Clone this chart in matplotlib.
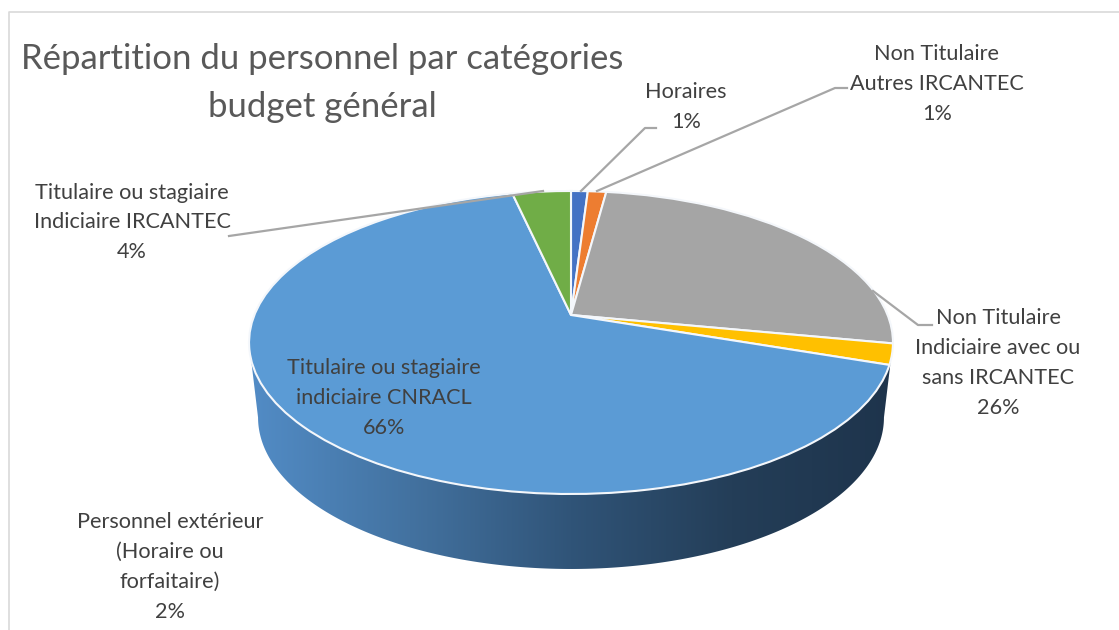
import numpy as np
import matplotlib
matplotlib.use('Agg')
import matplotlib.pyplot as plt
from matplotlib.patches import Polygon
from matplotlib.transforms import Transform

plt.rcParams['font.family'] = ['Lato', 'DejaVu Sans']

# Chart data
names = ['Horaires', 'Non Titulaire\nAutres IRCANTEC', 'Non Titulaire\nIndiciaire avec ou\nsans IRCANTEC',
         'Personnel extérieur\n(Horaire ou\nforfaitaire)', 'Titulaire ou stagiaire\nindiciaire CNRACL',
         'Titulaire ou stagiaire\nIndiciaire IRCANTEC']
values = [1.0, 1.1, 25.9, 2.2, 66.3, 3.5]
pct_labels = [1, 1, 26, 2, 66, 4]
colors = ['#4472C4', '#ED7D31', '#A5A5A5', '#FFC000', '#5B9BD5', '#70AD47']

# Label centres in pixels and the leader line of each label
label_pos = [(686, 107), (937, 84), (998, 363), (170, 567), (384, 398), (132, 222.5)]
leaders = [[(581, 191), (645, 128), (656, 128)],
           [(597, 191), (835, 88), (847, 88)],
           [(873, 291), (918, 325), (932, 325)],
           None,
           None,
           [(229, 236), (543, 191)]]

# Perspective of the tilted disc
apex = (571, 315)
a, b, k = 316.6, 146.5, 0.1815


class TiltTransform(Transform):
    input_dims = 2
    output_dims = 2

    def __init__(self, cx, cy, sx, sy, tilt):
        super().__init__()
        self.cx, self.cy, self.sx, self.sy, self.tilt = cx, cy, sx, sy, tilt

    def transform_non_affine(self, values):
        pts = np.asarray(values)
        w = 1 + self.tilt * pts[:, 1]
        return np.column_stack([self.cx + self.sx * pts[:, 0] / w,
                                self.cy - self.sy * pts[:, 1] / w])


fig = plt.figure(figsize=(11.19, 6.3), dpi=100)
ax = fig.add_axes([0, 0, 1, 1])

# Pie wedges come from the values, then get pushed through the perspective
wedges, _ = ax.pie(values, colors=colors, startangle=90, counterclock=False,
                   wedgeprops={'edgecolor': '#f4f7fb', 'linewidth': 1.5})
tilt = TiltTransform(apex[0], apex[1], a, b, k)
for w in wedges:
    w.set_transform(tilt + ax.transData)
    w.set_zorder(3)

ax.set_aspect('auto')
ax.axis('off')

# Side wall: gradient image clipped to the band under the front of the rim,
# the rim is widest where sin(t) = -k
t = np.linspace(np.pi + np.arcsin(k), 2 * np.pi - np.arcsin(k), 361)
unit = np.column_stack([np.cos(t), np.sin(t)])
front_rim = tilt.transform_non_affine(unit)
low_rim = front_rim.copy()
low_rim[:, 0] = 571 + (front_rim[:, 0] - 571) * 313 / 322
low_rim[:, 1] = front_rim[:, 1] + 75
side = Polygon(np.vstack([low_rim, front_rim[::-1]]), closed=True,
               transform=ax.transData, facecolor='none', edgecolor='none')
ax.add_patch(side)
grad_colors = np.array([[82, 140, 198], [67, 114, 160], [48, 84, 120], [36, 62, 88], [30, 52, 76]]) / 255
stops = np.linspace(0, 1, len(grad_colors))
g = np.linspace(0, 1, 256)
grad = np.stack([np.interp(g, stops, grad_colors[:, i]) for i in range(3)], axis=-1)[None, :, :]
im = ax.imshow(grad, extent=(249, 893, 580, 330), aspect='auto', zorder=2)
im.set_clip_path(side)
ax.set_xlim(0, 1119)
ax.set_ylim(630, 0)

# Frame of the chart area
ax.plot([9, 9, 1119], [630, 11.5, 11.5], color='#d9d9d9', lw=1.2, zorder=1)

# Title
ax.text(322, 83, 'Répartition du personnel par catégories\nbudget général', ha='center', va='center',
        fontsize=25, color='#595959', linespacing=1.58, zorder=5)

# Labels and leader lines
for name, pct, pos, leader in zip(names, pct_labels, label_pos, leaders):
    ax.text(pos[0], pos[1], f'{name}\n{pct}%', ha='center', va='center', fontsize=15.6,
            color='#404040', linespacing=1.62, zorder=5)
    if leader:
        ax.plot([p[0] for p in leader], [p[1] for p in leader], color='#a6a6a6', lw=1.6, zorder=4)

fig.savefig('out.png', dpi=100, facecolor='white')
